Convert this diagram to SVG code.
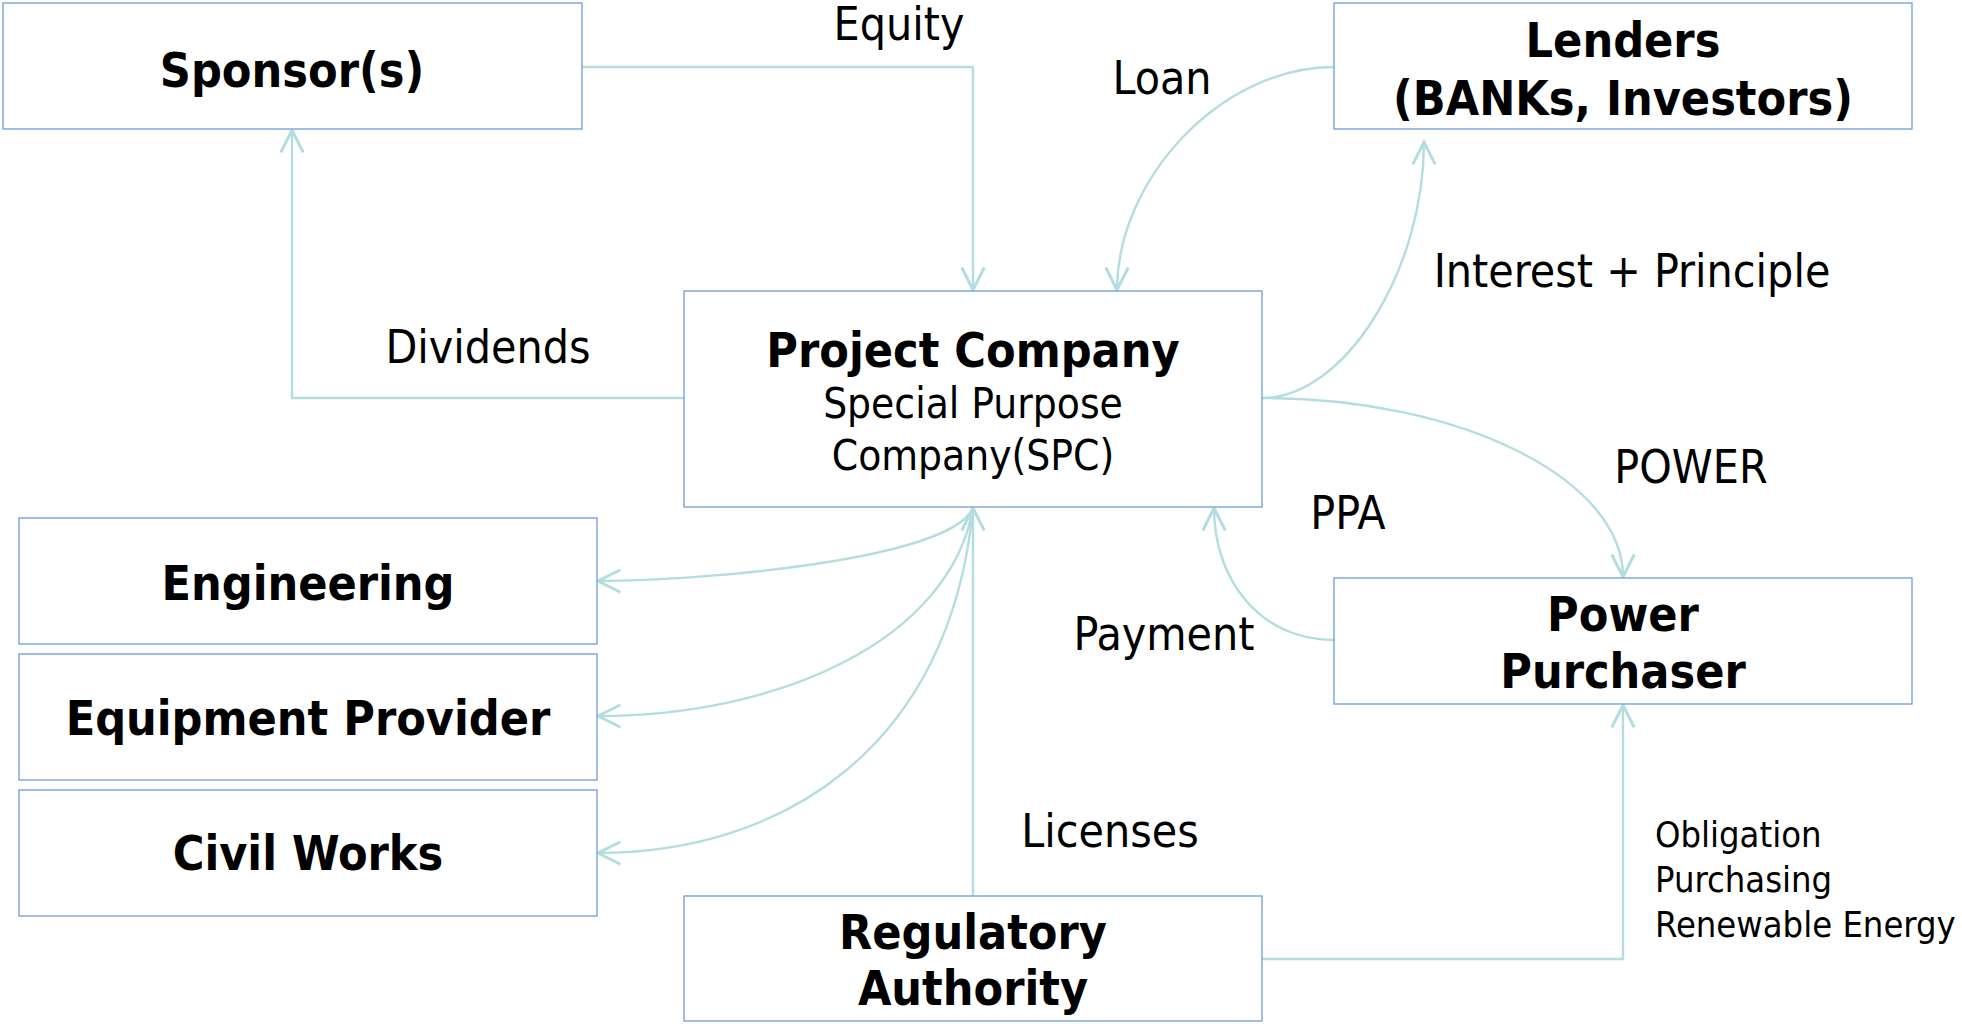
<svg xmlns="http://www.w3.org/2000/svg" width="1962" height="1024" viewBox="0 0 1962 1024">
<defs>
<style>
.box{fill:#ffffff;stroke:#6C9BE0;stroke-width:1.3}
.con{fill:none;stroke:#B4DDE0;stroke-width:2.4;marker-end:url(#arr)}
.b{font-family:"DejaVu Sans Condensed","DejaVu Sans",sans-serif;font-weight:bold;font-size:48px;fill:#000;text-anchor:middle}
.n{font-family:"DejaVu Sans Condensed","DejaVu Sans",sans-serif;font-size:46px;fill:#000;text-anchor:middle}
.m{font-family:"DejaVu Sans Condensed","DejaVu Sans",sans-serif;font-size:42px;fill:#000;text-anchor:middle}
.s{font-family:"DejaVu Sans Condensed","DejaVu Sans",sans-serif;font-size:36px;fill:#000}
</style>
<marker id="arr" markerUnits="userSpaceOnUse" markerWidth="30" markerHeight="30" viewBox="-20 -12 22 24" refX="0" refY="0" orient="auto">
<path d="M-18,-9 L0,0 L-18,9" fill="none" stroke="#B4DDE0" stroke-width="2.4"/>
</marker>
</defs>
<rect width="1962" height="1024" fill="#ffffff"/>
<g id="connectors">
<path class="con" d="M582,67 H973 V290"/>
<path class="con" d="M684,398 H292 V130"/>
<path class="con" d="M1334,67 C1220,67 1117,180 1117,290"/>
<path class="con" d="M1262,398 C1345,398 1424,270 1424,142"/>
<path class="con" d="M1262,398 C1461,398 1623,479 1623,577"/>
<path class="con" d="M1334,640 C1260,640 1214,580 1214,508"/>
<path class="con" d="M973,508 C950,560 700,581 598,581"/>
<path class="con" d="M973,508 C950,640 780,716 598,716"/>
<path class="con" d="M973,508 C950,750 780,853 598,853"/>
<path class="con" d="M973,896 V508"/>
<path class="con" d="M1262,959 H1623 V705"/>
</g>
<g id="labels">
<text class="n" x="899" y="40">Equity</text>
<text class="n" x="1162" y="94">Loan</text>
<text class="n" x="1632" y="287" font-size="47">Interest + Principle</text>
<text class="n" x="488" y="363">Dividends</text>
<text class="n" x="1691" y="483">POWER</text>
<text class="n" x="1348" y="529">PPA</text>
<text class="n" x="1164" y="650">Payment</text>
<text class="n" x="1110" y="847">Licenses</text>
<text class="s" x="1655" y="847">Obligation</text>
<text class="s" x="1655" y="892">Purchasing</text>
<text class="s" x="1655" y="937">Renewable Energy</text>
</g>
<g id="sponsor">
<rect class="box" x="3" y="3" width="579" height="126"/>
<text class="b" x="292" y="87">Sponsor(s)</text>
</g>
<g id="lenders">
<rect class="box" x="1334" y="3" width="578" height="126"/>
<text class="b" x="1623" y="57">Lenders</text>
<text class="b" x="1623" y="115">(BANKs, Investors)</text>
</g>
<g id="project-company">
<rect class="box" x="684" y="291" width="578" height="216"/>
<text class="b" x="973" y="367">Project Company</text>
<text class="m" x="973" y="418">Special Purpose</text>
<text class="m" x="973" y="470">Company(SPC)</text>
</g>
<g id="engineering">
<rect class="box" x="19" y="518" width="578" height="126"/>
<text class="b" x="308" y="600">Engineering</text>
</g>
<g id="equipment-provider">
<rect class="box" x="19" y="654" width="578" height="126"/>
<text class="b" x="308" y="735">Equipment Provider</text>
</g>
<g id="civil-works">
<rect class="box" x="19" y="790" width="578" height="126"/>
<text class="b" x="308" y="870">Civil Works</text>
</g>
<g id="power-purchaser">
<rect class="box" x="1334" y="578" width="578" height="126"/>
<text class="b" x="1623" y="631">Power</text>
<text class="b" x="1623" y="688">Purchaser</text>
</g>
<g id="regulatory-authority">
<rect class="box" x="684" y="896" width="578" height="125"/>
<text class="b" x="973" y="949">Regulatory</text>
<text class="b" x="973" y="1005">Authority</text>
</g>
</svg>
